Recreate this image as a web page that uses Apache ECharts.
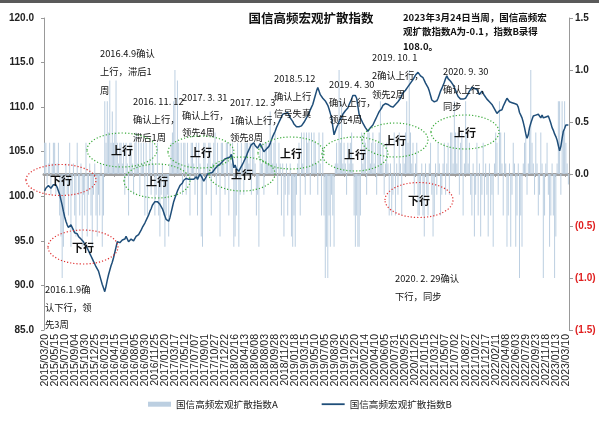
<!DOCTYPE html>
<html>
<head>
<meta charset="utf-8">
<script src="https://cdn.jsdelivr.net/npm/echarts@6/dist/echarts.min.js"></script>
<style>
html,body{margin:0;padding:0;background:#fff;}
#c{width:599px;height:439px;}
</style>
</head>
<body>
<div id="c"></div>
<script>
// Weekly categories: from 2015/03/20, 419 weeks
const startDate = Date.UTC(2015, 2, 20);
const weekCount = 419;
const categories = [];
for (let i = 0; i < weekCount; i++) {
  const d = new Date(startDate + i * 7 * 86400000);
  const mm = String(d.getUTCMonth() + 1).padStart(2, '0');
  const dd = String(d.getUTCDate()).padStart(2, '0');
  categories.push(d.getUTCFullYear() + '/' + mm + '/' + dd);
}
const labelEvery = 8;

const seriesNameA = '国信高频宏观扩散指数A';
const seriesNameB = '国信高频宏观扩散指数B';

// 指数A (right axis)
const indexA = [
  0.3, 0.3, -0.1, 0.1, 0.3, -0.2, 0.1, 0.3, 0.3, -0.2, 0.1, 0.3, -0.4,
  -0.6, -1.0, -0.7, -0.4, 0.1, -0.2, -0.4, 0.3, -0.7, -0.2, 0.1, -0.4, -0.6, 0.3, -0.2, -0.4, 0.1, -0.7,
  -0.2, -0.4, 0.3, -0.6, -0.2, 0.1, -0.4, -0.7, -0.2, 0.1, -0.4, -0.6, -0.2, -0.4, 0.1, -0.7, -0.4,
  0.7, 0.3, 0.7, 0.4, 0.9, 0.3, 0.6, 0.3, 0.4, 0.9, 0.3, 0.1, 0.3,
  0.3, 0.1, 0.3, -0.2, 0.3, 0.1, -0.4, 0.3, 0.3, 0.1, -0.2, 0.3, 0.4, 0.1, 0.3, -0.2, 0.3, 0.1, 0.3, -0.4,
  0.3, -0.4, 0.1, 0.3, -0.2, 0.3, 0.1, -0.4, -0.2, 0.3, -0.4, -0.6, -0.2, 0.1, -0.4, -0.7, -0.4, -0.2, -0.6, 0.1,
  0.3, 0.4, 0.7, 1.0, 0.3, 0.9, 0.3, 0.1, 0.3, -0.2,
  0.3, 0.3, -0.2, 0.3, 0.1, -0.4, 0.3, 0.3, 0.1, -0.2, 0.3, -0.4, 0.3, 0.1, -0.6, -0.7, 0.3, 0.3, -0.2, 0.1,
  0.3, 0.3, -0.4, 0.1, 0.3, 0.4, -0.2, 0.3, 0.1, -0.6, 0.3, 0.3, 0.1, -0.2, 0.3, 0.3, -0.4, 0.3, 0.1, 0.3,
  -0.7, -0.6, -0.4, 0.3, -0.7, -0.2, 0.3, 0.1, -0.2, 0.3,
  0.3, 0.3, 0.1, 0.3, -0.2, 0.3, 0.3, 0.1, -0.4, -0.2, -0.7, 0.3, 0.1, 0.3, -0.2, 0.3, 0.3, 0.1, 0.3, 0.6,
  0.3, 0.1, 0.3, 0.4, 0.1, -0.2, 0.3, 0.1, -0.4, 0.1, -0.6, -0.2, 0.1, -0.4, -0.2, 0.1, -0.6, -0.7, -0.4, -0.7,
  -0.2, 0.1, 0.3, -0.4, 0.4, 0.1, 0.4, -0.2, 0.4, 0.3,
  0.4, -0.2, 0.4, 0.1, 0.4, 0.3, 0.1, -0.2, 0.4, 0.1, -0.4, 0.4,
  -0.4, -1.0, -0.7, -1.0, -0.4, -0.7, -0.2, -0.4, -0.7, 0.1,
  0.3, 0.1, 1.0, 0.3, 0.7, 0.1, 0.3, 0.1, -0.2, 0.3, 0.1, 0.3, 0.4, 0.1, -0.4, -0.7, -0.4, -0.7,
  -0.7, -0.4, 0.4, 0.1, 0.4, 0.3, -0.2, 0.4, 0.4, 0.1,
  0.3, 0.4, 0.1, 0.3, -0.2, 0.3, 0.4, 0.7, 0.1, 0.3, -0.2, 0.1, 0.3, 0.1, -0.4, 0.1,
  -0.4, -0.2, 0.4, -0.4, 0.1, -0.2, 0.4, 0.1, -0.4, 0.3, 0.1,
  0.4, 0.7, 0.3, 1.0, 0.4, 0.1, 0.3, -0.2, 0.1, 0.3, -0.4,
  -0.4, -0.2, 0.1, -0.4, -0.6, 0.1, -0.2, -0.4, 0.1, 0.3, -0.2, -0.6, -0.4, 0.1, -0.2, 0.3, 0.1, -0.4, -0.2, 0.1,
  0.3, -0.2, 0.1, 0.3, -0.2, 0.4,
  0.4, 0.1, 0.7, 0.4, 0.1, 0.4, -0.2, 0.3, 0.4, -0.4, 0.1, 0.7, 0.4, 0.1, 0.3, -0.2,
  -0.4, 0.1, -0.6, -0.2, 0.3, -0.4, 0.1, -0.6, -0.2, 0.3, -0.4, 0.1, -0.2, -0.6, 0.1, -0.4, -0.2,
  -0.7, 0.1, 0.4, 0.3, -0.2, 0.7, 0.4, 0.1, -0.4, 0.4, 0.1, -0.7, -0.4, 0.1, -0.7, -0.2, 0.3, 0.1, -0.7, -0.4, 0.1,
  -1.0, -0.4, -0.7, 0.1, 0.3, 0.4, -0.2, 0.1, 0.4, 1.0, 0.3, 0.1, -0.2, 0.4, 0.1, -0.4, -0.2, 0.4, 0.1, -1.0, -0.4, 0.1,
  0.3, -0.2, -0.7, -0.4, 0.1, -0.4, -1.0, -0.6, 0.1, 0.7, 0.7, -0.2, 0.7, 0.4, 0.7, 0.3, 0.1, -0.1
];

// 指数B (left axis)
const indexB = [
  100.6, 100.9, 101.1, 101.2, 101.0, 100.9, 101.0, 101.3, 101.5, 101.3,
  101.0, 100.6, 100.2, 99.6, 99.0, 98.3, 97.7, 97.2, 96.8, 96.5,
  96.7, 96.8, 96.6, 96.2, 95.9, 95.7, 95.8, 95.5, 95.4, 95.2,
  95.3, 94.9, 94.6, 94.5, 94.2, 93.9, 93.6, 93.3, 93.0, 92.7,
  92.4, 92.1, 91.9, 91.6, 91.1, 90.6, 90.1, 89.7, 89.3, 89.9,
  90.6, 91.2, 91.7, 92.2, 92.6, 93.1, 93.7, 94.3, 94.9, 95.0,
  94.8, 95.0, 95.1, 95.3, 95.2, 95.5, 95.3, 94.9, 95.0, 95.2,
  95.3, 95.0, 95.2, 95.5, 95.6, 95.7, 95.9, 96.2, 96.5, 96.7,
  97.0, 97.2, 97.6, 97.9, 98.3, 98.6, 99.0, 99.2, 99.4, 99.6,
  99.4, 99.3, 99.1, 98.9, 98.6, 98.2, 97.8, 97.4, 97.3, 97.2,
  97.6, 98.2, 98.8, 99.4, 99.8, 100.2, 100.6, 100.9, 101.2, 101.4,
  101.5, 101.8, 101.7, 102.0, 101.8, 101.9, 102.1, 101.9, 101.7, 101.9,
  102.1, 102.2, 101.9, 102.2, 102.5, 102.4, 102.0, 101.7, 101.9, 102.2,
  102.5, 102.4, 102.6, 102.8, 102.7, 102.9, 103.1, 103.2, 103.4, 103.5,
  103.6, 103.8, 103.9, 104.0, 104.2, 104.1, 104.3, 104.5, 104.4, 104.7,
  104.1, 103.2, 103.5, 103.1, 102.9, 102.8, 103.1, 103.3, 103.6, 103.9,
  104.2, 104.5, 104.9, 105.2, 105.5, 105.8, 105.9, 106.0, 105.7, 105.5,
  105.4, 105.6, 105.9, 105.8, 105.3, 105.0, 105.1, 105.3, 105.4, 105.6,
  105.9, 106.3, 106.7, 107.0, 107.3, 107.7, 108.0, 108.3, 108.6, 108.9,
  109.2, 109.4, 109.3, 109.5, 109.4, 109.1, 108.8, 108.6, 108.4, 108.1,
  107.9, 107.8, 107.7, 107.8, 108.0, 107.9, 108.0, 108.3, 108.5, 108.8,
  109.0, 109.3, 109.7, 110.0, 110.3, 110.8, 111.3, 111.8, 112.2, 111.8,
  111.4, 111.2, 111.0, 110.9, 110.7, 110.5, 110.2, 109.8, 109.3, 108.8,
  107.8, 106.9, 107.3, 107.7, 108.0, 108.4, 108.6, 108.9, 109.2, 109.4,
  109.6, 109.8, 109.9, 110.3, 110.6, 110.9, 111.3, 111.1, 111.3, 111.0,
  110.1, 109.2, 108.8, 108.5, 108.2, 108.0, 107.7, 107.5, 107.3, 107.5,
  107.7, 107.8, 108.0, 108.3, 108.6, 108.9, 109.2, 109.5, 109.7, 109.9,
  110.2, 110.3, 110.4, 110.2, 110.3, 110.3, 110.1, 110.2, 110.0, 110.1,
  110.3, 110.5, 110.6, 110.8, 111.0, 111.3, 111.6, 111.8, 111.9, 112.1,
  112.3, 112.5, 112.7, 112.9, 113.1, 113.3, 113.6, 113.8, 113.9, 113.7,
  113.5, 113.4, 113.3, 113.0, 112.7, 112.5, 112.2, 111.8, 111.3, 110.8,
  110.9, 110.6, 110.8, 110.7, 111.0, 111.4, 111.8, 112.1, 112.3, 112.8,
  113.2, 113.5, 113.2, 113.1, 112.9, 112.7, 112.5, 112.2, 111.9, 111.5,
  111.2, 111.0, 110.9, 110.8, 110.9, 111.1, 111.0, 111.2, 111.5, 111.8,
  112.0, 112.2, 112.4, 112.1, 111.9, 112.0, 111.7, 111.4, 111.5, 111.8,
  111.6, 111.3, 111.1, 110.9, 110.7, 110.6, 110.4, 110.3, 110.1, 109.8,
  109.6, 109.3, 109.4, 109.6, 109.5, 109.7, 110.1, 110.4, 110.7, 111.0,
  110.8, 110.6, 110.7, 110.5, 110.3, 110.4, 110.2, 110.3, 110.0, 109.4,
  109.1, 108.8, 108.3, 107.7, 107.0, 106.5, 106.9, 107.7, 108.2, 108.6,
  109.0, 108.9, 109.1, 108.9, 109.2, 109.0, 108.8, 109.1, 108.8, 109.0,
  108.9, 109.1, 109.0, 108.6, 108.2, 107.7, 107.4, 107.0, 106.7, 106.3,
  105.7, 105.1, 105.6, 106.5, 107.3, 107.6, 108.0, 108.2, 108.0
];

const leftTicks = { min: 85, max: 120, interval: 5 };
const rightTicks = { min: -1.5, max: 1.5, interval: 0.5 };

const titleText = '国信高频宏观扩散指数';
const noteText = '2023年3月24日当周，国信高频宏\n观扩散指数A为-0.1，指数B录得\n108.0。';

// Annotations: [text, x, top, lineHeight]
const notes = [
  ['2016.4.9确认\n上行，滞后1\n周', 100, 44, 18.5],
  ['2016. 11. 12\n确认上行，\n滞后1周', 133, 92, 18],
  ['2017. 3. 31\n确认上行，\n领先4周', 182, 89, 17.5],
  ['2017. 12. 3\n1确认上行，\n领先8周', 230, 94, 17.5],
  ['2018.5.12\n确认上行\n信号失真', 274, 70, 17.5],
  ['2019. 4. 30\n确认上行，\n领先4周', 329, 76, 17.5],
  ['2019. 10. 1\n2确认上行，\n领先2周', 372, 48, 18.5],
  ['2020. 9. 30\n确认上行，\n同步', 443, 63, 17.5],
  ['2016.1.9确\n认下行，领\n先3周', 45, 281, 17.5],
  ['2020. 2. 29确认\n下行，同步', 395, 269, 18]
];

// Ellipses: [label, cx, cy, rx, ry, kind]
const ellipses = [
  ['下行', 61, 180, 35, 15.5, 'down'],
  ['下行', 83, 247, 35, 17, 'down'],
  ['下行', 419, 200, 34, 17.5, 'down'],
  ['上行', 122, 150, 35, 17, 'up'],
  ['上行', 157, 181, 33, 17, 'up'],
  ['上行', 201, 152, 33, 16, 'up'],
  ['上行', 242, 174, 33, 17, 'up'],
  ['上行', 291, 153, 33, 16, 'up'],
  ['上行', 355, 154, 33, 17, 'up'],
  ['上行', 395, 140, 33, 17, 'up'],
  ['上行', 465, 132, 34, 17, 'up']
];

const cjk = '"Noto Sans CJK SC", "Noto Sans", sans-serif';
const cjkFamily = 'Noto Sans CJK SC';
const graphics = [];
graphics.push({ type: 'rect', z: 100, shape: { x: 0, y: 0, width: 599, height: 3 }, style: { fill: '#5a5a5a' } });
graphics.push({ type: 'text', z: 100, x: 311, y: 18, style: { text: titleText, fill: '#111', fontSize: 12.5, fontWeight: 'bold', fontFamily: cjkFamily, align: 'center', verticalAlign: 'middle' } });
graphics.push({ type: 'text', z: 100, x: 403, y: 10, style: { text: noteText, fill: '#111', fontSize: 9.5, fontWeight: 'bold', fontFamily: cjkFamily, lineHeight: 14.5, align: 'left', verticalAlign: 'top' } });
notes.forEach(n => {
  graphics.push({ type: 'text', z: 100, x: n[1], y: n[2], style: { text: n[0], fill: '#111', fontSize: 9.3, fontFamily: cjkFamily, lineHeight: n[3], align: 'left', verticalAlign: 'top' } });
});
ellipses.forEach(e => {
  const col = e[5] === 'down' ? '#e03030' : '#3aaa3a';
  graphics.push({ type: 'ellipse', z: 100, shape: { cx: e[1], cy: e[2], rx: e[3], ry: e[4] }, style: { fill: 'none', stroke: col, lineWidth: 1.2, lineDash: [1.2, 2] } });
  graphics.push({ type: 'text', z: 101, x: e[1], y: e[2] + 1, style: { text: e[0], fill: '#111', fontSize: 11, fontWeight: 'bold', fontFamily: cjkFamily, align: 'center', verticalAlign: 'middle' } });
});

const chart = echarts.init(document.getElementById('c'));
chart.setOption({
  animation: false,
  backgroundColor: '#fff',
  grid: { left: 44, right: 30, top: 18, bottom: 109, containLabel: false },
  legend: {
    bottom: 25, left: 143,
    itemWidth: 23, itemHeight: 5, itemGap: 43,
    textStyle: { fontSize: 9.6, color: '#222', fontFamily: cjk },
    data: [
      { name: seriesNameA, icon: 'rect' },
      { name: seriesNameB, itemStyle: { opacity: 0 }, lineStyle: { color: '#1f4e79', width: 1.8 } }
    ]
  },
  xAxis: {
    type: 'category',
    data: categories,
    boundaryGap: true,
    axisLine: { lineStyle: { color: '#a0a0a0', width: 3 } },
    axisTick: { show: true, interval: (i) => i % labelEvery === 0, length: 3, lineStyle: { color: '#a0a0a0' } },
    axisLabel: {
      interval: 0,
      formatter: (v, i) => (i % labelEvery === 0 ? v : ''),
      hideOverlap: false,
      rotate: 90, fontSize: 10.5, color: '#222', margin: 4, fontFamily: 'Liberation Sans, Arial, sans-serif'
    },
    splitLine: { show: false }
  },
  yAxis: [
    {
      type: 'value', position: 'left',
      min: leftTicks.min, max: leftTicks.max, interval: leftTicks.interval,
      axisLine: { show: true, lineStyle: { color: '#999', width: 1 } },
      axisTick: { show: true, length: 3, lineStyle: { color: '#999' } },
      axisLabel: { formatter: v => Number(v).toFixed(1), fontSize: 10, fontWeight: 'bold', color: '#222', margin: 10, fontFamily: 'Liberation Sans, Arial, sans-serif' },
      splitLine: { show: false }
    },
    {
      type: 'value', position: 'right',
      min: rightTicks.min, max: rightTicks.max, interval: rightTicks.interval,
      axisLine: { show: true, lineStyle: { color: '#999', width: 1 } },
      axisTick: { show: true, length: 4, lineStyle: { color: '#999' } },
      axisLabel: {
        formatter: v => { const n = Number(v); return n < 0 ? '(' + Math.abs(n).toFixed(1) + ')' : n.toFixed(1); },
        color: v => (Number(v) < 0 ? '#e02020' : '#222'),
        fontSize: 10, fontWeight: 'bold', margin: 6, fontFamily: 'Liberation Sans, Arial, sans-serif'
      },
      splitLine: { show: false }
    }
  ],
  series: [
    {
      name: seriesNameA, type: 'bar', yAxisIndex: 1, data: indexA,
      barCategoryGap: '25%',
      itemStyle: { color: '#bccfe1' },
      z: 1
    },
    {
      name: seriesNameB, type: 'line', yAxisIndex: 0, data: indexB,
      symbol: 'none', smooth: false,
      lineStyle: { color: '#1f4e79', width: 1.5 },
      itemStyle: { color: '#1f4e79' },
      z: 3
    }
  ],
  graphic: graphics
});
</script>
</body>
</html>
